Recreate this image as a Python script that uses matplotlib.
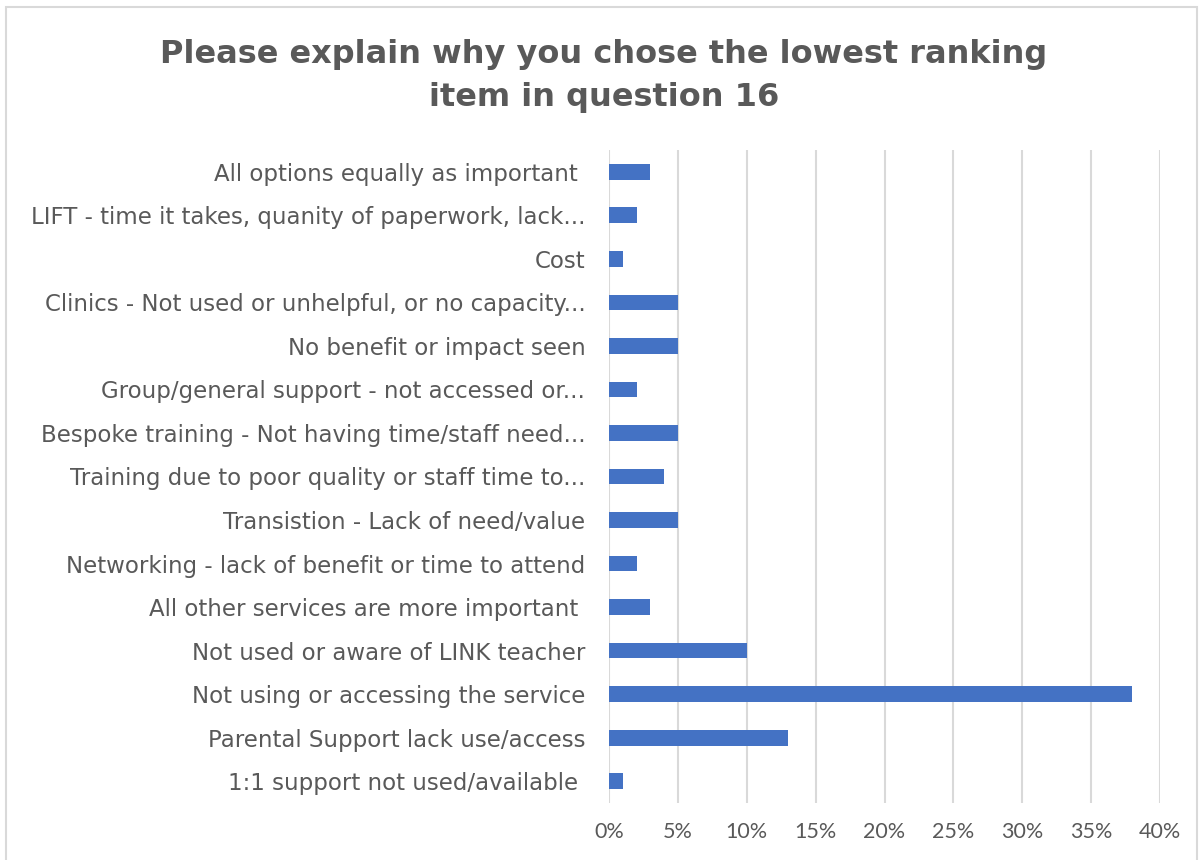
import numpy as np
import matplotlib.pyplot as plt
from matplotlib.patches import Rectangle
from matplotlib.ticker import FuncFormatter

# -----------------------------
# Data (top to bottom as shown)
# -----------------------------
labels = [
    "All options equally as important ",
    "LIFT - time it takes, quanity of paperwork, lack...",
    "Cost",
    "Clinics - Not used or unhelpful, or no capacity...",
    "No benefit or impact seen",
    "Group/general support - not accessed or...",
    "Bespoke training - Not having time/staff need...",
    "Training due to poor quality or staff time to...",
    "Transistion - Lack of need/value",
    "Networking - lack of benefit or time to attend",
    "All other services are more important ",
    "Not used or aware of LINK teacher",
    "Not using or accessing the service",
    "Parental Support lack use/access",
    "1:1 support not used/available ",
]
values = [3, 2, 1, 5, 5, 2, 5, 4, 5, 2, 3, 10, 38, 13, 1]  # percent

title = "Please explain why you chose the lowest ranking\nitem in question 16"
xticks = [0, 5, 10, 15, 20, 25, 30, 35, 40]

# -----------------------------
# Plot
# -----------------------------
text_col = "#595959"
bar_col = "#4472C4"
grid_col = "#d9d9d9"

fig = plt.figure(figsize=(12.03, 8.6), dpi=100)
ax = fig.add_axes([0.5062, 0.0663, 0.4581, 0.7593])

# outer chart border
fig.patches.append(Rectangle((6 / 1203, -0.01), 1191 / 1203, 1 - 7 / 860 + 0.01,
                             transform=fig.transFigure, fill=False,
                             edgecolor="#d9d9d9", linewidth=1.5))

y = np.arange(len(labels))
ax.barh(y, values, height=0.36, color=bar_col, zorder=3)

ax.set_ylim(len(labels) - 0.5, -0.5)
ax.set_xlim(0, 40)
ax.set_xticks(xticks)
ax.xaxis.set_major_formatter(FuncFormatter(lambda v, p: f"{v:.0f}%"))
ax.set_yticks(y)
ax.set_yticklabels(labels, fontsize=16.5, color=text_col, family="DejaVu Sans")

ax.grid(axis="x", color=grid_col, linewidth=1.5, zorder=0)
for s in ax.spines.values():
    s.set_visible(False)
ax.tick_params(axis="y", length=0, pad=17)
ax.tick_params(axis="x", length=0, pad=14, labelsize=15.5, labelcolor=text_col)
for t in ax.get_xticklabels():
    t.set_family("Lato")

fig.text(0.502, 0.912, title, ha="center", va="center", fontsize=23,
         fontweight="bold", color=text_col, linespacing=1.5)

fig.savefig("out.png", dpi=100)
